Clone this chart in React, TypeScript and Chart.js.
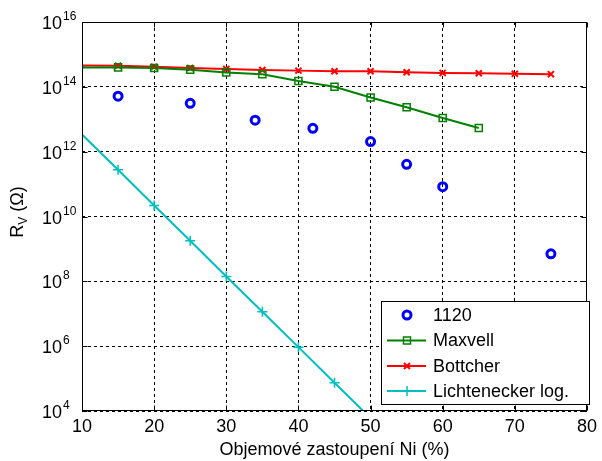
import React, { useEffect, useRef } from 'react';
import { Chart, registerables } from 'chart.js';

Chart.register(...registerables);

const FONT = "'Liberation Sans', Arial, Helvetica, sans-serif";

// ---- data ----
const xTickValues = [10, 20, 30, 40, 50, 60, 70, 80];
const yTickExponents = [4, 6, 8, 10, 12, 14, 16];

const xTitle = 'Objemové zastoupení Ni (%)';

const sampleLabel = '1120';
const sampleNi = [15, 25, 34, 42, 50, 55, 60, 75];
const sampleLogR = [13.71, 13.49, 12.97, 12.72, 12.31, 11.61, 10.92, 8.85];

const maxwellLabel = 'Maxvell';
const maxwellNi = [10, 15, 20, 25, 30, 35, 40, 45, 50, 55, 60, 65];
const maxwellLogR = [14.6, 14.6, 14.58, 14.53, 14.44, 14.39, 14.18, 14.0, 13.67, 13.37, 13.04, 12.73];

const bottcherLabel = 'Bottcher';
const bottcherNi = [10, 15, 20, 25, 30, 35, 40, 45, 50, 55, 60, 65, 70, 75];
const bottcherLogR = [14.66, 14.65, 14.62, 14.58, 14.55, 14.52, 14.5, 14.48, 14.48, 14.45, 14.43, 14.42, 14.4, 14.39];

const lichLabel = 'Lichtenecker log.';
const lichNi = [10, 15, 20, 25, 30, 35, 40, 45, 50];
const lichLogR = [12.53, 11.44, 10.34, 9.25, 8.15, 7.06, 5.97, 4.87, 3.78];

const BLUE = '#0000ff';
const GREEN = '#008000';
const RED = '#ff0000';
const CYAN = '#00bfbf';

const toPoints = (xs: number[], logs: number[]) =>
  xs.map((x, i) => ({ x, y: Math.pow(10, logs[i]) }));

const markerOnlyFrom15 = (r: number) => (ctx: any) =>
  ctx.raw && (ctx.raw.x < 15 || ctx.raw.x > 75 || (ctx.datasetIndex === 3 && ctx.raw.x > 45)) ? 0 : r;

function drawMarker(ctx: CanvasRenderingContext2D, kind: string, x: number, y: number, color: string) {
  ctx.save();
  ctx.strokeStyle = color;
  ctx.beginPath();
  if (kind === 'circle') {
    ctx.lineWidth = 3;
    ctx.arc(x, y, 4, 0, Math.PI * 2);
  } else if (kind === 'rect') {
    ctx.lineWidth = 1.5;
    ctx.rect(x - 3.5, y - 3.5, 7, 7);
  } else if (kind === 'crossRot') {
    ctx.lineWidth = 2;
    ctx.moveTo(x - 3, y - 3); ctx.lineTo(x + 3, y + 3);
    ctx.moveTo(x + 3, y - 3); ctx.lineTo(x - 3, y + 3);
  } else if (kind === 'cross') {
    ctx.lineWidth = 1.5;
    ctx.moveTo(x, y - 5); ctx.lineTo(x, y + 5);
    ctx.moveTo(x - 5, y); ctx.lineTo(x + 5, y);
  }
  ctx.stroke();
  ctx.restore();
}

const decorPlugin = {
  id: 'matlabDecor',
  afterDraw(chart: any) {
    const { ctx, chartArea: a, scales } = chart;
    const xs = scales.x;
    const ys = scales.y;
    ctx.save();

    // axes box
    ctx.strokeStyle = '#000';
    ctx.lineWidth = 1;
    const L = Math.round(a.left) + 0.5;
    const R = Math.round(a.right) - 0.5;
    const T = Math.round(a.top) + 0.5;
    const B = Math.round(a.bottom) - 0.5;
    ctx.strokeRect(L, T, R - L, B - T);

    // inner tick marks
    ctx.beginPath();
    xTickValues.forEach((v) => {
      const px = Math.round(xs.getPixelForValue(v)) + 0.5;
      ctx.moveTo(px, B); ctx.lineTo(px, B - 5);
      ctx.moveTo(px, T); ctx.lineTo(px, T + 5);
    });
    yTickExponents.forEach((e) => {
      const py = Math.round(ys.getPixelForValue(Math.pow(10, e))) + 0.5;
      ctx.moveTo(L, py); ctx.lineTo(L + 5, py);
      ctx.moveTo(R, py); ctx.lineTo(R - 5, py);
    });
    ctx.stroke();

    // y tick labels 10^e
    ctx.fillStyle = '#000';
    ctx.textBaseline = 'alphabetic';
    ctx.textAlign = 'left';
    yTickExponents.forEach((e) => {
      const py = ys.getPixelForValue(Math.pow(10, e));
      ctx.font = `18px ${FONT}`;
      ctx.fillText('10', 42, py + 7);
      const w = ctx.measureText('10').width;
      ctx.font = `12px ${FONT}`;
      ctx.fillText(String(e), 42 + w + 1, py - 2);
    });

    // y axis title R_V (Ω)
    ctx.save();
    ctx.translate(23, 212);
    ctx.rotate(-Math.PI / 2);
    ctx.font = `18px ${FONT}`;
    const wR = ctx.measureText('R').width;
    ctx.font = `12px ${FONT}`;
    const wV = ctx.measureText('V').width;
    ctx.font = `18px ${FONT}`;
    const rest = ' (Ω)';
    const wRest = ctx.measureText(rest).width;
    const total = wR + wV + wRest;
    let cx = -total / 2;
    ctx.fillText('R', cx, 0);
    cx += wR;
    ctx.font = `12px ${FONT}`;
    ctx.fillText('V', cx, 4);
    cx += wV;
    ctx.font = `18px ${FONT}`;
    ctx.fillText(rest, cx, 0);
    ctx.restore();

    // legend
    const lx = 381.5, ly = 301.5, lw = 208, lh = 103;
    ctx.fillStyle = '#fff';
    ctx.fillRect(lx, ly, lw, lh);
    ctx.strokeStyle = '#000';
    ctx.lineWidth = 1;
    ctx.strokeRect(lx, ly, lw, lh);
    const entries = [
      { label: sampleLabel, color: BLUE, marker: 'circle', line: false },
      { label: maxwellLabel, color: GREEN, marker: 'rect', line: true },
      { label: bottcherLabel, color: RED, marker: 'crossRot', line: true },
      { label: lichLabel, color: CYAN, marker: 'cross', line: true },
    ];
    const rowY = [315, 340.5, 366, 391];
    entries.forEach((en, i) => {
      const y = rowY[i];
      if (en.line) {
        ctx.strokeStyle = en.color;
        ctx.lineWidth = 2;
        ctx.beginPath();
        ctx.moveTo(387, y);
        ctx.lineTo(426, y);
        ctx.stroke();
      }
      drawMarker(ctx, en.marker, 407, y, en.color);
      ctx.fillStyle = '#000';
      ctx.font = `18px ${FONT}`;
      ctx.textBaseline = 'middle';
      ctx.fillText(en.label, 433, y + 1);
    });

    ctx.restore();
  },
};

export default function App() {
  const canvasRef = useRef<HTMLCanvasElement | null>(null);

  useEffect(() => {
    const canvas = canvasRef.current;
    if (!canvas) return;
    const chart = new Chart(canvas, {
      type: 'scatter',
      data: {
        datasets: [
          {
            label: sampleLabel,
            data: toPoints(sampleNi, sampleLogR),
            showLine: false,
            borderColor: BLUE,
            backgroundColor: 'rgba(0,0,0,0)',
            pointStyle: 'circle',
            pointRadius: 4,
            pointBorderWidth: 3,
          },
          {
            label: maxwellLabel,
            data: toPoints(maxwellNi, maxwellLogR),
            showLine: true,
            borderColor: GREEN,
            borderWidth: 2,
            backgroundColor: 'rgba(0,0,0,0)',
            pointStyle: 'rect',
            pointRadius: markerOnlyFrom15(5),
            pointBorderWidth: 1.5,
          },
          {
            label: bottcherLabel,
            data: toPoints(bottcherNi, bottcherLogR),
            showLine: true,
            borderColor: RED,
            borderWidth: 2,
            backgroundColor: 'rgba(0,0,0,0)',
            pointStyle: 'crossRot',
            pointRadius: markerOnlyFrom15(4.3),
            pointBorderWidth: 2,
          },
          {
            label: lichLabel,
            data: toPoints(lichNi, lichLogR),
            showLine: true,
            borderColor: CYAN,
            borderWidth: 2,
            backgroundColor: 'rgba(0,0,0,0)',
            pointStyle: 'cross',
            pointRadius: markerOnlyFrom15(5),
            pointBorderWidth: 1.5,
          },
        ],
      },
      options: {
        animation: false,
        responsive: false,
        devicePixelRatio: 1,
        layout: { padding: { top: 22, right: 11, bottom: 0, left: 0 } },
        plugins: {
          legend: { display: false },
          tooltip: { enabled: false },
        },
        scales: {
          x: {
            type: 'linear',
            min: 10,
            max: 80,
            afterBuildTicks: (scale: any) => {
              scale.ticks = xTickValues.map((v) => ({ value: v }));
            },
            afterFit: (scale: any) => {
              scale.height = 50;
            },
            ticks: {
              color: '#000',
              font: { family: FONT, size: 18 },
              padding: 5,
              maxRotation: 0,
              autoSkip: false,
            },
            grid: { color: '#000', lineWidth: 1, drawTicks: false },
            border: { display: false, dash: [3, 3] },
            title: {
              display: true,
              text: xTitle,
              color: '#000',
              font: { family: FONT, size: 18 },
              padding: 0,
            },
          },
          y: {
            type: 'logarithmic',
            min: 1e4,
            max: 1e16,
            afterBuildTicks: (scale: any) => {
              scale.ticks = yTickExponents.map((e) => ({ value: Math.pow(10, e) }));
            },
            afterFit: (scale: any) => {
              scale.width = 82;
            },
            ticks: { display: false },
            grid: { color: '#000', lineWidth: 1, drawTicks: false },
            border: { display: false, dash: [3, 3] },
          },
        },
      },
      plugins: [decorPlugin],
    } as any);
    return () => chart.destroy();
  }, []);

  return (
    <div style={{ position: 'absolute', left: 0, top: 0, width: 602, height: 461, background: '#fff' }}>
      <canvas ref={canvasRef} width={602} height={461} />
    </div>
  );
}
